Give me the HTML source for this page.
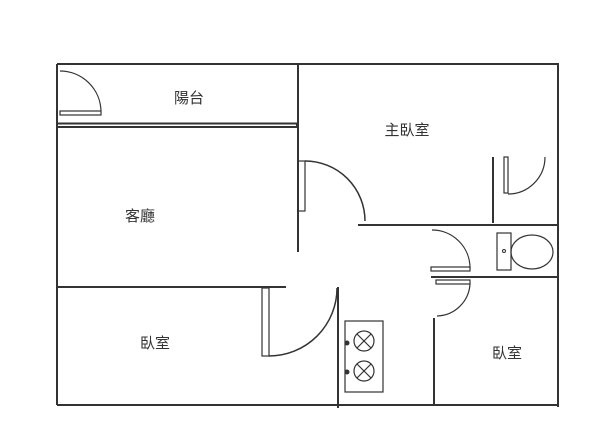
<!DOCTYPE html>
<html><head><meta charset="utf-8"><style>
html,body{margin:0;padding:0;background:#fff;}
svg{display:block;}
text{font-family:"Liberation Sans","Noto Sans CJK TC",sans-serif;font-size:15px;fill:#333;text-anchor:middle;}
</style></head><body>
<svg width="600" height="444" viewBox="0 0 600 444" xmlns="http://www.w3.org/2000/svg">
<g stroke="#333" stroke-width="2" fill="none">
<!-- outer -->
<line x1="57" y1="64" x2="559" y2="64"/>
<line x1="57" y1="64" x2="57" y2="405"/>
<line x1="57" y1="405" x2="559" y2="405"/>
<line x1="558" y1="64" x2="558" y2="407"/>
<!-- balcony -->
<rect x="57" y="123.5" width="240" height="3.5" stroke-width="2"/>
<line x1="298" y1="64" x2="298" y2="252"/>
<!-- balcony door -->
<rect x="60" y="111" width="41" height="4" stroke-width="1.2"/>
<path d="M60 71 A41 41 0 0 1 101 111" stroke-width="1.2"/>
<!-- living door -->
<rect x="298" y="161" width="7" height="50" stroke-width="1.2"/>
<path d="M305 161 A60 60 0 0 1 365 221" stroke-width="1.5"/>
<!-- master bedroom lower wall -->
<line x1="358" y1="225" x2="559" y2="225"/>
<line x1="493" y1="157" x2="493" y2="223"/>
<rect x="504" y="157" width="4" height="36" stroke-width="1.2"/>
<path d="M508 194 A37 37 0 0 0 545 157" stroke-width="1.2"/>
<!-- toilet -->
<rect x="497" y="233" width="14" height="37" stroke-width="1.2"/>
<circle cx="504" cy="251" r="1.5" stroke-width="1"/>
<ellipse cx="532" cy="252" rx="21" ry="17" stroke-width="1.2"/>
<!-- bathroom lower wall -->
<line x1="431" y1="277" x2="559" y2="277"/>
<rect x="431" y="267" width="39" height="4" stroke-width="1.2"/>
<path d="M432 230 A38 38 0 0 1 470 268" stroke-width="1.2"/>
<rect x="436" y="280" width="34" height="4" stroke-width="1.2"/>
<path d="M470 284 A34 34 0 0 1 437 316" stroke-width="1.2"/>
<line x1="434" y1="318" x2="434" y2="405"/>
<!-- kitchen wall -->
<line x1="338" y1="287" x2="338" y2="408"/>
<!-- bedroom left -->
<line x1="57" y1="287" x2="286" y2="287"/>
<rect x="262" y="288" width="7" height="68" stroke-width="1.2"/>
<path d="M269 356 A68 68 0 0 0 337 288" stroke-width="1.5"/>
<!-- stove -->
<rect x="345" y="321" width="38" height="71" stroke-width="1.2"/>
<g stroke-width="1.2">
<circle cx="364" cy="341" r="10"/>
<line x1="357" y1="334" x2="371" y2="348"/><line x1="371" y1="334" x2="357" y2="348"/>
<circle cx="364" cy="371" r="10"/>
<line x1="357" y1="364" x2="371" y2="378"/><line x1="371" y1="364" x2="357" y2="378"/>
</g>
</g>
<circle cx="347" cy="343" r="2.5" fill="#333"/>
<circle cx="347" cy="372" r="2.5" fill="#333"/>
<text x="189" y="103">陽台</text>
<text x="407" y="135">主臥室</text>
<text x="140" y="221">客廳</text>
<text x="155" y="348">臥室</text>
<text x="507" y="358">臥室</text>
</svg>
</body></html>
